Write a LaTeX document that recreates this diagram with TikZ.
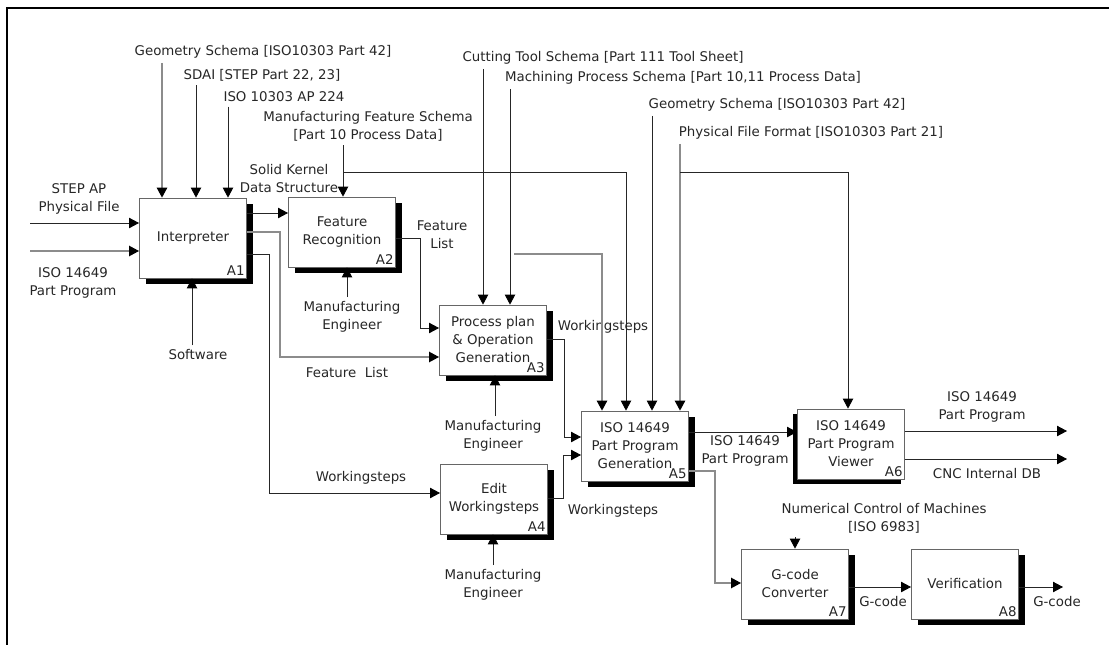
\documentclass[tikz,border=0pt]{standalone}
\usepackage{fontspec}
\setmainfont{DejaVu Sans}
\usetikzlibrary{arrows.meta,shadows}

\begin{document}
\begin{tikzpicture}[x=0.025cm,y=-0.025cm,
  font=\fontsize{9.5}{12.8}\selectfont,text=black!85,
  box/.style={draw=black!60,fill=white,line width=0.5pt,align=center,inner sep=2pt,
    minimum width=2.68cm,minimum height=1.75cm,
    label={[anchor=south east,inner sep=1.5pt]south east:#1}},
  fn/.style={box=#1,drop shadow={shadow xshift=0.16cm,shadow yshift=-0.14cm,opacity=1,fill=black}},
  fnl/.style={box=#1,drop shadow={shadow xshift=-0.1cm,shadow yshift=-0.13cm,opacity=1,fill=black}},
  lab/.style={align=center,inner sep=3pt},
  arr/.style={-{Triangle[length=2.5mm,width=2.6mm,color=black]},black!85,line width=0.6pt},
  arrf/.style={arr,black!45,line width=1pt}]
\useasboundingbox (0,0) rectangle (1109,644);
\draw[line width=1.4pt] (7,8) rectangle (1130,660);
% activities
\node[fn={A1},minimum height=2cm] (a1) at (193,238) {Interpreter};
\node[fn={A2}] (a2) at (342,232) {Feature\\Recognition};
\node[fn={A3}] (a3) at (493,340) {Process plan\\\& Operation\\Generation};
\node[fn={A4}] (a4) at (494,499) {Edit\\Workingsteps};
\node[fn={A5}] (a5) at (635,446) {ISO 14649\\Part Program\\Generation};
\node[fnl={A6}] (a6) at (851,444) {ISO 14649\\Part Program\\Viewer};
\node[fn={A7}] (a7) at (795,584) {G-code\\Converter};
\node[fn={A8}] (a8) at (965,584) {Verification};
% controls, mechanisms and inputs
\node[lab] (geo1) at (263,52) {Geometry Schema [ISO10303 Part 42]};
\node[lab] (sdai) at (262,75) {SDAI [STEP Part 22, 23]};
\node[lab] (ap) at (284,97) {ISO 10303 AP 224};
\node[lab] (mfs) at (368,126) {Manufacturing Feature Schema\\{[Part 10 Process Data]}};
\node[lab] (cts) at (603,58) {Cutting Tool Schema [Part 111 Tool Sheet]};
\node[lab] (mps) at (683,78) {Machining Process Schema [Part 10,11 Process Data]};
\node[lab] (geo2) at (777,105) {Geometry Schema [ISO10303 Part 42]};
\node[lab] (pff) at (811,133) {Physical File Format [ISO10303 Part 21]};
\node[lab] (ncm) at (884,518) {Numerical Control of Machines\\{[ISO 6983]}};
\node[lab] (stp) at (79,199) {STEP AP\\Physical File};
\node[lab] (ppin) at (73,283) {ISO 14649\\Part Program};
\node[lab] (sw) at (198,355) {Software};
\node[lab] (me2) at (352,317) {Manufacturing\\Engineer};
\node[lab] (me3) at (493,436) {Manufacturing\\Engineer};
\node[lab] (me4) at (493,585) {Manufacturing\\Engineer};
% flow labels
\node[lab] (sk) at (289,179) {Solid Kernel\\Data Structure};
\node[lab] (fl1) at (442,235) {Feature\\List};
\node[lab] (fl2) at (347,373) {Feature~~List};
\node[lab] (ws1) at (361,478) {Workingsteps};
\node[lab] (ws2) at (603,327) {Workingsteps};
\node[lab] (ws3) at (613,511) {Workingsteps};
\node[lab] (pp1) at (745,451) {ISO 14649\\Part Program};
\node[lab] (pp2) at (982,407) {ISO 14649\\Part Program};
\node[lab] (db) at (987,474) {CNC Internal DB};
\node[lab] (gc1) at (883,602) {G-code};
\node[lab] (gc2) at (1057,602) {G-code};
\coordinate (in1) at (30,223);
\coordinate (in2) at (30,251);
\coordinate (mfsj) at (343,172);
\coordinate (pffj) at (680,172);
\coordinate (flx) at (514,254);
\coordinate (o1) at (1067,431);
\coordinate (o2) at (1067,459);
\coordinate (o3) at (1063,587);
% control arrows
\draw[arrf] (geo1.south -| 162,0) -- (a1.north -| 162,0);
\draw[arr] (sdai.south -| 196,0) -- (a1.north -| 196,0);
\draw[arr] (ap.south -| 228,0) -- (a1.north -| 228,0);
\draw[arr] (mfs.south -| 343,0) -- (a2.north -| 343,0);
\draw[arr] (mfsj) -| (a5.north -| 626,0);
\draw[arr] (cts.south -| 483,0) -- (a3.north -| 483,0);
\draw[arr] (mps.south -| 510,0) -- (a3.north -| 510,0);
\draw[arr] (geo2.south -| 652,0) -- (a5.north -| 652,0);
\draw[arrf] (pff.south -| 680,0) -- (a5.north -| 680,0);
\draw[arr] (pffj) -| (a6.north -| 848,0);
\draw[arr] (ncm.south -| 795,0) -- (a7.north -| 795,0);
% mechanism arrows
\draw[arr] (sw.north -| 192,0) -- (a1.south -| 192,0);
\draw[arr] (me2.north -| 347,0) -- (a2.south -| 347,0);
\draw[arr] (me3.north -| 495,0) -- (a3.south -| 495,0);
\draw[arr] (me4.north -| 493,0) -- (a4.south -| 493,0);
% inputs and outputs
\draw[arr] (in1) -- (a1.west |- in1);
\draw[arrf] (in2) -- (a1.west |- in2);
\draw[arr] (a1.east |- 0,213) -- (a2.west |- 0,213);
\draw[arrf] (a1.east |- 0,232) -- ++(33,0) |- (a3.west |- 0,357);
\draw[arr] (a1.east |- 0,254) -- ++(22,0) |- (a4.west |- 0,493);
\draw[arr] (a2.east |- 0,238) -- ++(24,0) |- (a3.west |- 0,328);
\draw[arrf] (flx) -| (a5.north -| 602,0);
\draw[arr] (a3.east |- 0,339) -- ++(17,0) |- (a5.west |- 0,437);
\draw[arr] (a4.east |- 0,498) -- ++(15,0) |- (a5.west |- 0,455);
\draw[arr] (a5.east |- 0,432) -- (a6.west |- 0,432);
\draw[arrf] (a5.east |- 0,471) -- ++(26,0) |- (a7.west |- 0,583);
\draw[arr] (a6.east |- o1) -- (o1);
\draw[arr] (a6.east |- o2) -- (o2);
\draw[arr] (a7.east |- 0,587) -- (a8.west |- 0,587);
\draw[arr] (a8.east |- o3) -- (o3);
\end{tikzpicture}
\end{document}
